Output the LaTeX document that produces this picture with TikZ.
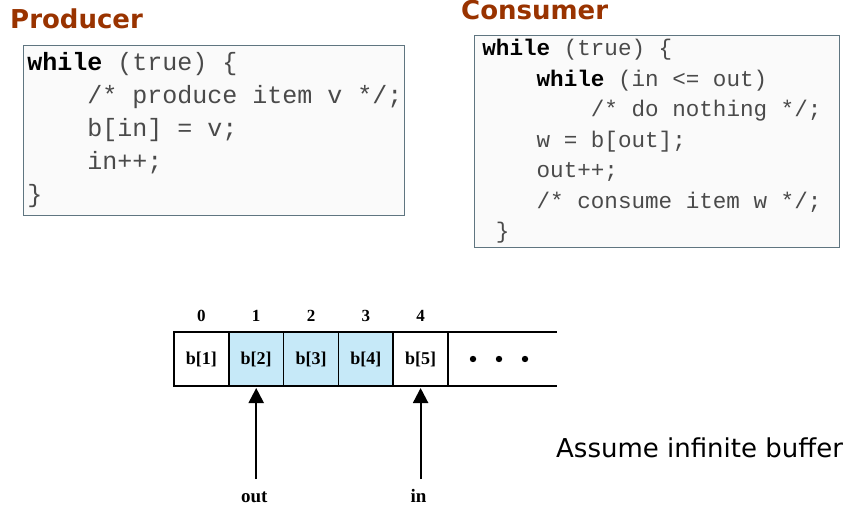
\documentclass[tikz,border=0pt]{standalone}
\usepackage{fontspec}
\setmainfont{DejaVu Sans}
\setmonofont{Liberation Mono}
\newfontfamily\bufferfont{Liberation Serif}
\usepackage{xcolor}
\definecolor{titleBrown}{HTML}{993300}
\definecolor{codeGray}{HTML}{4A4A4A}
\definecolor{frameGray}{HTML}{5F7580}
\definecolor{codeBack}{HTML}{FAFAFA}
\definecolor{slotBlue}{HTML}{C6E9F8}
\usepackage{tikz}
\usetikzlibrary{arrows.meta,positioning}

\newcommand{\kw}[1]{\textcolor{black}{\textbf{#1}}}
\newcommand{\blank}{\hphantom{x}}

\begin{document}
\begin{tikzpicture}[x=1pt,y=-1pt,
    title/.style={font=\bfseries\fontsize{26}{30}\selectfont,text=titleBrown,inner sep=0pt,anchor=base west},
    codebox/.style={draw=frameGray,fill=codeBack,line width=0.8pt,align=left,text=codeGray,anchor=north west},
    cell/.style={draw,line width=1.6pt,minimum width=54.8pt,minimum height=54pt,inner sep=0pt,outer sep=0pt,
                 font=\bufferfont\bfseries\fontsize{18}{20}\selectfont},
    idx/.style={font=\bufferfont\bfseries\fontsize{17}{19}\selectfont,inner sep=0pt},
    ptrlbl/.style={font=\bufferfont\bfseries\fontsize{19}{21}\selectfont,inner sep=2pt,text height=12pt,text depth=0pt},
    ptr/.style={line width=2.2pt,-{Triangle[length=15pt,width=15pt]},shorten <=9pt,shorten >=2pt}]
  \useasboundingbox (0,0) rectangle (858,510);

  % producer
  \node[title] (prodtitle) at (10,29) {Producer};
  \node[codebox,text width=373pt,minimum height=170pt,inner xsep=4pt,
        font=\ttfamily\fontsize{25}{33}\selectfont] (prodcode) at (23,45)
       {\kw{while}\blank(true)\blank\{\\
        \hphantom{xxxx}/*\blank produce\blank item\blank v\blank */;\\
        \hphantom{xxxx}b[in]\blank=\blank v;\\
        \hphantom{xxxx}in++;\\
        \}};

  % consumer
  \node[title] (constitle) at (461,20) {Consumer};
  \node[codebox,text width=349pt,minimum height=212pt,inner xsep=8pt,
        font=\ttfamily\fontsize{22.6}{30.5}\selectfont] (conscode) at (474,35)
       {\kw{while}\blank(true)\blank\{\\
        \hphantom{xxxx}\kw{while}\blank(in\blank<=\blank out)\\
        \hphantom{xxxxxxxx}/*\blank do\blank nothing\blank */;\\
        \hphantom{xxxx}w\blank=\blank b[out];\\
        \hphantom{xxxx}out++;\\
        \hphantom{xxxx}/*\blank consume\blank item\blank w\blank */;\\
        \hphantom{x}\}};

  % buffer
  \node[cell] (b1) at (201.4,359) {b[1]};
  \node[cell,fill=slotBlue,right=0pt of b1] (b2) {b[2]};
  \node[cell,fill=slotBlue,right=0pt of b2] (b3) {b[3]};
  \node[cell,fill=slotBlue,right=0pt of b3] (b4) {b[4]};
  \node[cell,right=0pt of b4] (b5) {b[5]};
  \draw[line width=1.6pt] (b2.north east) -- (b2.south east) (b3.north east) -- (b3.south east);
  \draw[line width=1.6pt] (b5.north east) -- ++(109,0);
  \draw[line width=1.6pt] (b5.south east) -- ++(109,0);
  \fill (b5.east) ++(25,0) circle (3.2pt) ++(26,0) circle (3.2pt) ++(26,0) circle (3.2pt);

  \node[idx,above=10pt of b1] (i0) {0};
  \node[idx,above=10pt of b2] (i1) {1};
  \node[idx,above=10pt of b3] (i2) {2};
  \node[idx,above=10pt of b4] (i3) {3};
  \node[idx,above=10pt of b5] (i4) {4};

  % pointers
  \node[ptrlbl,below=102pt of b2,xshift=-2pt] (outlbl) {out};
  \node[ptrlbl,below=102pt of b5,xshift=-2pt] (inlbl) {in};
  \draw[ptr] (b2.south |- outlbl.north) -- (b2.south);
  \draw[ptr] (b5.south |- inlbl.north) -- (b5.south);

  \node[font=\fontsize{26}{30}\selectfont,inner sep=0pt,anchor=base west] (note) at (556,457) {Assume infinite buffer};
\end{tikzpicture}
\end{document}
